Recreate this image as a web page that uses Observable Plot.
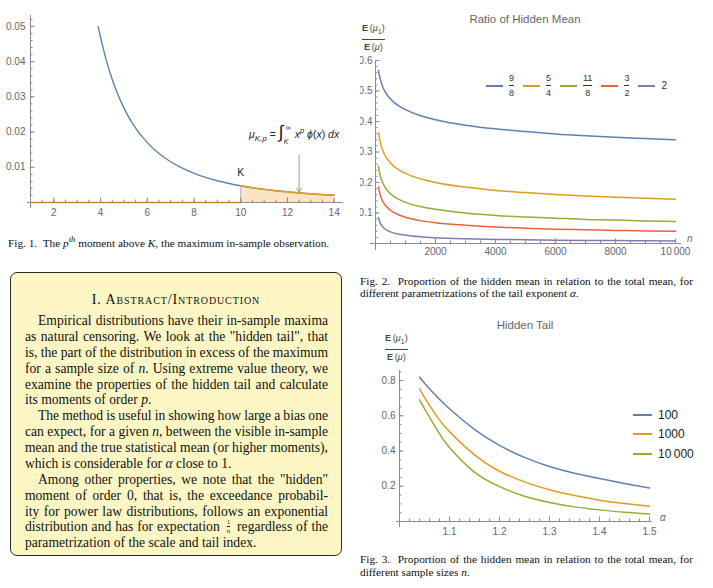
<!DOCTYPE html>
<html><head><meta charset="utf-8">
<script src="https://cdn.jsdelivr.net/npm/d3@7"></script>
<script src="https://cdn.jsdelivr.net/npm/@observablehq/plot@0.6"></script>
<style>
html,body{margin:0;padding:0;background:#fff;}
#page{position:relative;width:713px;height:588px;overflow:hidden;background:#fff;font-family:"Liberation Sans",Arial,sans-serif;}
.abs{position:absolute;}
.serif{font-family:"Liberation Serif","Times New Roman",serif;color:#111;}
.cap{font-size:11.3px;line-height:12.5px;white-space:nowrap;}
.title{font-size:11.5px;color:#666;text-align:center;width:200px;}
.frac{display:flex;flex-direction:column;align-items:center;color:#444;font-size:9px;line-height:10px;}
.frac .bar{height:1px;background:#444;align-self:stretch;margin:2px 0 2px 0;}
.leg2{display:flex;align-items:center;font-size:9px;color:#333;}
.leg2 .ln{width:17px;height:2px;margin-right:6px;}
.leg2 .item{display:flex;align-items:center;margin-right:9px;}
.leg2 .fr{display:flex;flex-direction:column;align-items:center;line-height:10px;}
.leg2 .fr .bar{height:1px;background:#333;align-self:stretch;margin:2px 0;}
.leg3 .row{display:flex;align-items:center;height:19.5px;font-size:12px;color:#222;}
.leg3 .ln{width:19px;height:2px;margin-right:6px;}
#box{position:absolute;left:10px;top:272px;width:330px;height:282px;border:1.6px solid #2a2a2a;border-radius:7px;background:#fcf6c4;}
.bl{font-size:13.6px;line-height:16px;white-space:nowrap;}
.sfrac{display:inline-flex;flex-direction:column;align-items:center;vertical-align:middle;font-size:7px;line-height:6px;margin:0 3px;position:relative;top:-2px;}
.sfrac .bar{height:0.8px;background:#111;align-self:stretch;margin:1px 0;}
.formula{font-size:10.5px;color:#222;white-space:nowrap;line-height:20px;}
.intg{display:inline-block;position:relative;width:16px;height:20px;vertical-align:middle;}
.intg .s{position:absolute;left:0;top:-3px;font-size:18px;font-style:normal;}
.intg .up{position:absolute;left:7px;top:-1px;font-size:7px;line-height:8px;}
.intg .lo{position:absolute;left:5px;top:13px;font-size:7px;line-height:8px;font-style:italic;}
</style></head>
<body><div id="page"></div>
<script>
// ---------------- DATA ----------------
// Fig. 1: density phi(x)
const densX = [3.9, 4, 4.25, 4.5, 4.75, 5, 5.5, 6, 6.5, 7, 7.5, 8, 8.5, 9, 9.5, 10, 10.5, 11, 11.5, 12, 12.5, 13, 13.5, 14];
const densY = [0.0499, 0.0469, 0.0403, 0.0349, 0.0305, 0.0268, 0.0211, 0.0170, 0.0139, 0.01157, 0.00974, 0.00829, 0.00712, 0.00617, 0.00539, 0.00474, 0.00420, 0.00374, 0.00334, 0.00301, 0.00272, 0.00246, 0.00224, 0.00205];
const K = 10;
const fig1XTicks = [2, 4, 6, 8, 10, 12, 14];
const fig1YTicks = [0.01, 0.02, 0.03, 0.04, 0.05];
const arrowFrom = [12.5, 0.0135];
const arrowTo = [12.5, 0.0029];

// Fig. 2: ratio of hidden mean vs n
const nValues = [100, 150, 200, 300, 500, 750, 1000, 1500, 2000, 3000, 4000, 5000, 6000, 7000, 8000, 9000, 10000];
const alphaLabels2 = [["9","8"], ["5","4"], ["11","8"], ["3","2"], ["2",null]];
const ratio98  = [0.567, 0.542, 0.525, 0.501, 0.474, 0.453, 0.439, 0.419, 0.406, 0.388, 0.376, 0.367, 0.359, 0.353, 0.348, 0.344, 0.340];
const ratio54  = [0.364, 0.336, 0.317, 0.292, 0.264, 0.243, 0.230, 0.212, 0.200, 0.185, 0.174, 0.167, 0.161, 0.156, 0.152, 0.148, 0.145];
const ratio118 = [0.253, 0.226, 0.209, 0.187, 0.163, 0.146, 0.135, 0.121, 0.112, 0.100, 0.092, 0.087, 0.083, 0.079, 0.077, 0.074, 0.072];
const ratio32  = [0.186, 0.162, 0.147, 0.129, 0.109, 0.095, 0.086, 0.075, 0.068, 0.060, 0.054, 0.050, 0.047, 0.045, 0.043, 0.041, 0.040];
const ratio2   = [0.085, 0.069, 0.060, 0.049, 0.038, 0.031, 0.027, 0.022, 0.019, 0.0155, 0.0134, 0.012, 0.011, 0.0102, 0.0095, 0.009, 0.0085];
const fig2XTicks = [2000, 4000, 6000, 8000, 10000];
const fig2XTickLabels = ["2000", "4000", "6000", "8000", "10\u2009000"];
const fig2YTicks = [0.1, 0.2, 0.3, 0.4, 0.5, 0.6];

// Fig. 3: hidden tail vs alpha
const alphaValues = [1.04, 1.05, 1.075, 1.1, 1.15, 1.2, 1.25, 1.3, 1.35, 1.4, 1.45, 1.5];
const sampleLabels = ["100", "1000", "10\u2009000"];
const tail100   = [0.82, 0.785, 0.708, 0.64, 0.523, 0.432, 0.364, 0.312, 0.274, 0.244, 0.216, 0.19];
const tail1000  = [0.755, 0.705, 0.595, 0.51, 0.378, 0.285, 0.225, 0.18, 0.147, 0.121, 0.102, 0.087];
const tail10000 = [0.69, 0.64, 0.52, 0.42, 0.28, 0.198, 0.143, 0.108, 0.083, 0.066, 0.052, 0.042];
const fig3XTicks = [1.1, 1.2, 1.3, 1.4, 1.5];
const fig3YTicks = [0.2, 0.4, 0.6, 0.8];

// ---------------- STYLE ----------------
const palette = ["#5e81b5", "#e19c24", "#8fb032", "#eb6235", "#8778b3"];
const axisGray = "#8a8a8a";
const tickColor = "#666";
const sansStyle = {fontFamily: '"Liberation Sans", Arial, sans-serif', fontSize: "10px", color: tickColor, background: "transparent", overflow: "visible"};

const page = document.getElementById("page");
function put(html, left, top, cls) {
  const d = document.createElement("div");
  d.className = "abs" + (cls ? " " + cls : "");
  d.style.left = left + "px"; d.style.top = top + "px";
  if (typeof html === "string") d.innerHTML = html; else d.appendChild(html);
  page.appendChild(d);
  return d;
}
// place a single line of text, optionally justified to a given width by word spacing
function putLine(html, left, top, cls, justifyWidth) {
  const d = put('<span class="t">' + html + '</span>', left, top, cls);
  d.style.whiteSpace = "nowrap";
  if (justifyWidth) {
    const span = d.querySelector(".t");
    const w = span.getBoundingClientRect().width;
    const nSpaces = (span.textContent.match(/[ \u00a0]/g) || []).length;
    if (nSpaces) span.style.wordSpacing = ((justifyWidth - w) / nSpaces) + "px";
  }
  return d;
}
const rangeStep = (a, b, s) => d3.range(Math.round((b - a) / s) + 1).map(i => +(a + i * s).toFixed(6));

function tickMarks(xMinor, xMajor, yMinor, yMajor, innerW, innerH) {
  return [
    Plot.tickX(xMinor, {x: d => d, stroke: axisGray, insetTop: innerH - 2.5}),
    Plot.tickX(xMajor, {x: d => d, stroke: axisGray, insetTop: innerH - 4.5}),
    Plot.tickY(yMinor, {y: d => d, stroke: axisGray, insetRight: innerW - 2.5}),
    Plot.tickY(yMajor, {y: d => d, stroke: axisGray, insetRight: innerW - 4.5})
  ];
}

// ---------------- FIG 1 ----------------
{
  const pts = densX.map((x, i) => ({x, y: densY[i]}));
  const tail = pts.filter(d => d.x >= K);
  const fK = densY[densX.indexOf(K)];
  const W = 350, H = 225, mL = 30, mR = 7, mT = 15, mB = 23;
  const fig = Plot.plot({
    width: W, height: H, marginLeft: mL, marginRight: mR, marginTop: mT, marginBottom: mB,
    x: {domain: [1, 14.4]}, y: {domain: [0, 0.0531]},
    style: sansStyle,
    marks: [
      Plot.areaY(tail, {x: "x", y: "y", fill: "#fbe4c4", curve: "monotone-x"}),
      Plot.ruleX([K], {y1: 0, y2: fK, stroke: "#aeb6c8"}),
      Plot.ruleX([1], {stroke: axisGray, insetBottom: -6}),
      Plot.ruleY([0], {stroke: axisGray, insetLeft: -3}),
      ...tickMarks(rangeStep(1, 14, 0.5), fig1XTicks, rangeStep(0, 0.052, 0.002), fig1YTicks, W - mL - mR, H - mT - mB),
      Plot.line([{x: 1, y: 0}, {x: K, y: 0}], {x: "x", y: "y", stroke: "#c08a35", strokeWidth: 1.5}),
      Plot.line(pts, {x: "x", y: "y", stroke: palette[0], strokeWidth: 1.4, curve: "monotone-x"}),
      Plot.line(tail, {x: "x", y: "y", stroke: palette[1], strokeWidth: 1.6, curve: "monotone-x"}),
      Plot.text(["K"], {x: K, y: fK, dy: -13, fill: "#222", fontSize: 10.5}),
      Plot.arrow([0], {x1: arrowFrom[0], y1: arrowFrom[1], x2: arrowTo[0], y2: arrowTo[1], stroke: "#9a9a9a", strokeWidth: 1, headLength: 7}),
      Plot.axisX({ticks: fig1XTicks, tickSize: 0, tickPadding: 6, label: null}),
      Plot.axisY({ticks: fig1YTicks, tickSize: 0, tickPadding: 5, label: null, tickFormat: d3.format(".2f")})
    ]
  });
  put(fig, 0, 0);
  put('<i>\u03bc</i><sub style="font-size:8px"><i>K,p</i></sub> = <span class="intg"><span class="s">\u222b</span><span class="up">\u221e</span><span class="lo">K</span></span><i>x</i><sup style="font-size:7.5px"><i>p</i></sup>&nbsp;<i>\u03d5</i>(<i>x</i>)&nbsp;<i>dx</i>',
      249, 121, "formula");
  put('Fig. 1.&nbsp; The <i>p</i><sup style="font-size:8.5px"><i>th</i></sup> moment above <i>K</i>, the maximum in-sample observation.', 8, 233, "serif cap");
}

// ---------------- FIG 2 ----------------
{
  const seriesArr = [ratio98, ratio54, ratio118, ratio32, ratio2];
  const W = 340, H = 265, mL = 15, mR = 19, mT = 60, mB = 22;
  const fig = Plot.plot({
    width: W, height: H, marginLeft: mL, marginRight: mR, marginTop: mT, marginBottom: mB,
    x: {domain: [0, 10200]}, y: {domain: [0, 0.6]},
    style: {...sansStyle, overflow: "hidden"},
    marks: [
      Plot.ruleX([0], {stroke: axisGray, insetBottom: -7}),
      Plot.ruleY([0], {stroke: axisGray, insetLeft: -5}),
      ...tickMarks(rangeStep(500, 10000, 500), fig2XTicks, rangeStep(0.02, 0.6, 0.02), fig2YTicks, W - mL - mR, H - mT - mB),
      ...seriesArr.map((vals, k) => Plot.line(nValues.map((n, i) => ({n, v: vals[i]})), {x: "n", y: "v", stroke: palette[k], strokeWidth: 1.5, curve: "monotone-x"})),
      Plot.axisX({ticks: fig2XTicks, tickSize: 0, tickPadding: 4.5, label: null, tickFormat: d => fig2XTickLabels[fig2XTicks.indexOf(d)]}),
      Plot.axisY({ticks: fig2YTicks, tickSize: 0, tickPadding: 3, label: null, tickFormat: d3.format(".1f")})
    ]
  });
  put(fig, 360, 0);
  put("Ratio of Hidden Mean", 425, 13, "title");
  put('<div class="frac"><div><b>E</b>\u2009(<i>\u03bc</i><sub style="font-size:7px">1</sub>)</div><div class="bar"></div><div><b>E</b>\u2009(<i>\u03bc</i>)</div></div>', 362, 23);
  put('<i>n</i>', 687, 233).style.cssText += "font-size:10px;color:#666;";
  const leg = document.createElement("div");
  leg.className = "leg2";
  alphaLabels2.forEach((fr, k) => {
    const lab = fr[1] ? `<div class="fr"><div>${fr[0]}</div><div class="bar"></div><div>${fr[1]}</div></div>` : `<div style="font-size:10px">${fr[0]}</div>`;
    leg.innerHTML += `<div class="item"><div class="ln" style="background:${palette[k]}"></div>${lab}</div>`;
  });
  put(leg, 486, 73);
  putLine('Fig. 2.&nbsp; Proportion of the hidden mean in relation to the total mean, for', 360, 275, "serif cap", 333);
  putLine('different parametrizations of the tail exponent <i>\u03b1</i>.', 360, 287, "serif cap");
}

// ---------------- FIG 3 ----------------
{
  const seriesArr = [tail100, tail1000, tail10000];
  const W = 300, H = 245, mL = 19, mR = 28, mT = 70, mB = 24;
  const fig = Plot.plot({
    width: W, height: H, marginLeft: mL, marginRight: mR, marginTop: mT, marginBottom: mB,
    x: {domain: [1, 1.506]}, y: {domain: [0, 0.857]},
    style: sansStyle,
    marks: [
      Plot.ruleX([1], {stroke: axisGray, insetBottom: -6}),
      Plot.ruleY([0], {stroke: axisGray, insetLeft: -3}),
      ...tickMarks(rangeStep(1.02, 1.5, 0.02), fig3XTicks, rangeStep(0.05, 0.85, 0.05), fig3YTicks, W - mL - mR, H - mT - mB),
      ...seriesArr.map((vals, k) => Plot.line(alphaValues.map((a, i) => ({a, v: vals[i]})), {x: "a", y: "v", stroke: palette[k], strokeWidth: 1.5, curve: "natural"})),
      Plot.axisX({ticks: fig3XTicks, tickSize: 0, tickPadding: 6, label: null, tickFormat: d3.format(".1f")}),
      Plot.axisY({ticks: fig3YTicks, tickSize: 0, tickPadding: 4, label: null, tickFormat: d3.format(".1f")})
    ]
  });
  put(fig, 380, 300);
  put("Hidden Tail", 425, 319, "title");
  put('<div class="frac"><div><b>E</b>\u2009(<i>\u03bc</i><sub style="font-size:7px">1</sub>)</div><div class="bar"></div><div><b>E</b>\u2009(<i>\u03bc</i>)</div></div>', 385, 333);
  put('<i>\u03b1</i>', 660, 512).style.cssText += "font-size:10px;color:#666;";
  const leg = document.createElement("div");
  leg.className = "leg3";
  sampleLabels.forEach((s, k) => {
    leg.innerHTML += `<div class="row"><div class="ln" style="background:${palette[k]}"></div><div>${s}</div></div>`;
  });
  put(leg, 633, 405);
  putLine('Fig. 3.&nbsp; Proportion of the hidden mean in relation to the total mean, for', 360, 553, "serif cap", 333);
  putLine('different sample sizes <i>n</i>.', 360, 566, "serif cap");
}

// ---------------- ABSTRACT BOX ----------------
{
  const box = document.createElement("div");
  box.id = "box";
  page.appendChild(box);
  // [text, justified?, paragraph indent?]
  const lines = [
    ["Empirical distributions have their in-sample maxima", true, true],
    ["as natural censoring. We look at the \"hidden tail\", that", true, false],
    ["is, the part of the distribution in excess of the maximum", true, false],
    ["for a sample size of <i>n</i>. Using extreme value theory, we", true, false],
    ["examine the properties of the hidden tail and calculate", true, false],
    ["its moments of order <i>p</i>.", false, false],
    ["The method is useful in showing how large a bias one", true, true],
    ["can expect, for a given <i>n</i>, between the visible in-sample", true, false],
    ["mean and the true statistical mean (or higher moments),", true, false],
    ["which is considerable for <i>\u03b1</i> close to 1.", false, false],
    ["Among other properties, we note that the \"hidden\"", true, true],
    ["moment of order 0, that is, the exceedance probabil-", true, false],
    ["ity for power law distributions, follows an exponential", true, false],
    ["distribution and has for expectation <span class=\"sfrac\"><span>1</span><span class=\"bar\"></span><i>n</i></span> regardless of the", true, false],
    ["parametrization of the scale and tail index.", false, false]
  ];
  put('<div style="width:330px;text-align:center;font-size:14px;font-variant:small-caps;letter-spacing:0.9px">I. Abstract/Introduction</div>', 11, 292, "serif");
  const textLeft = 25, textWidth = 303, indent = 13;
  lines.forEach((l, i) => {
    const left = textLeft + (l[2] ? indent : 0);
    putLine(l[0], left, 313 + i * 15.88, "serif bl", l[1] ? textWidth - (l[2] ? indent : 0) : 0);
  });
}
</script>
</body></html>
